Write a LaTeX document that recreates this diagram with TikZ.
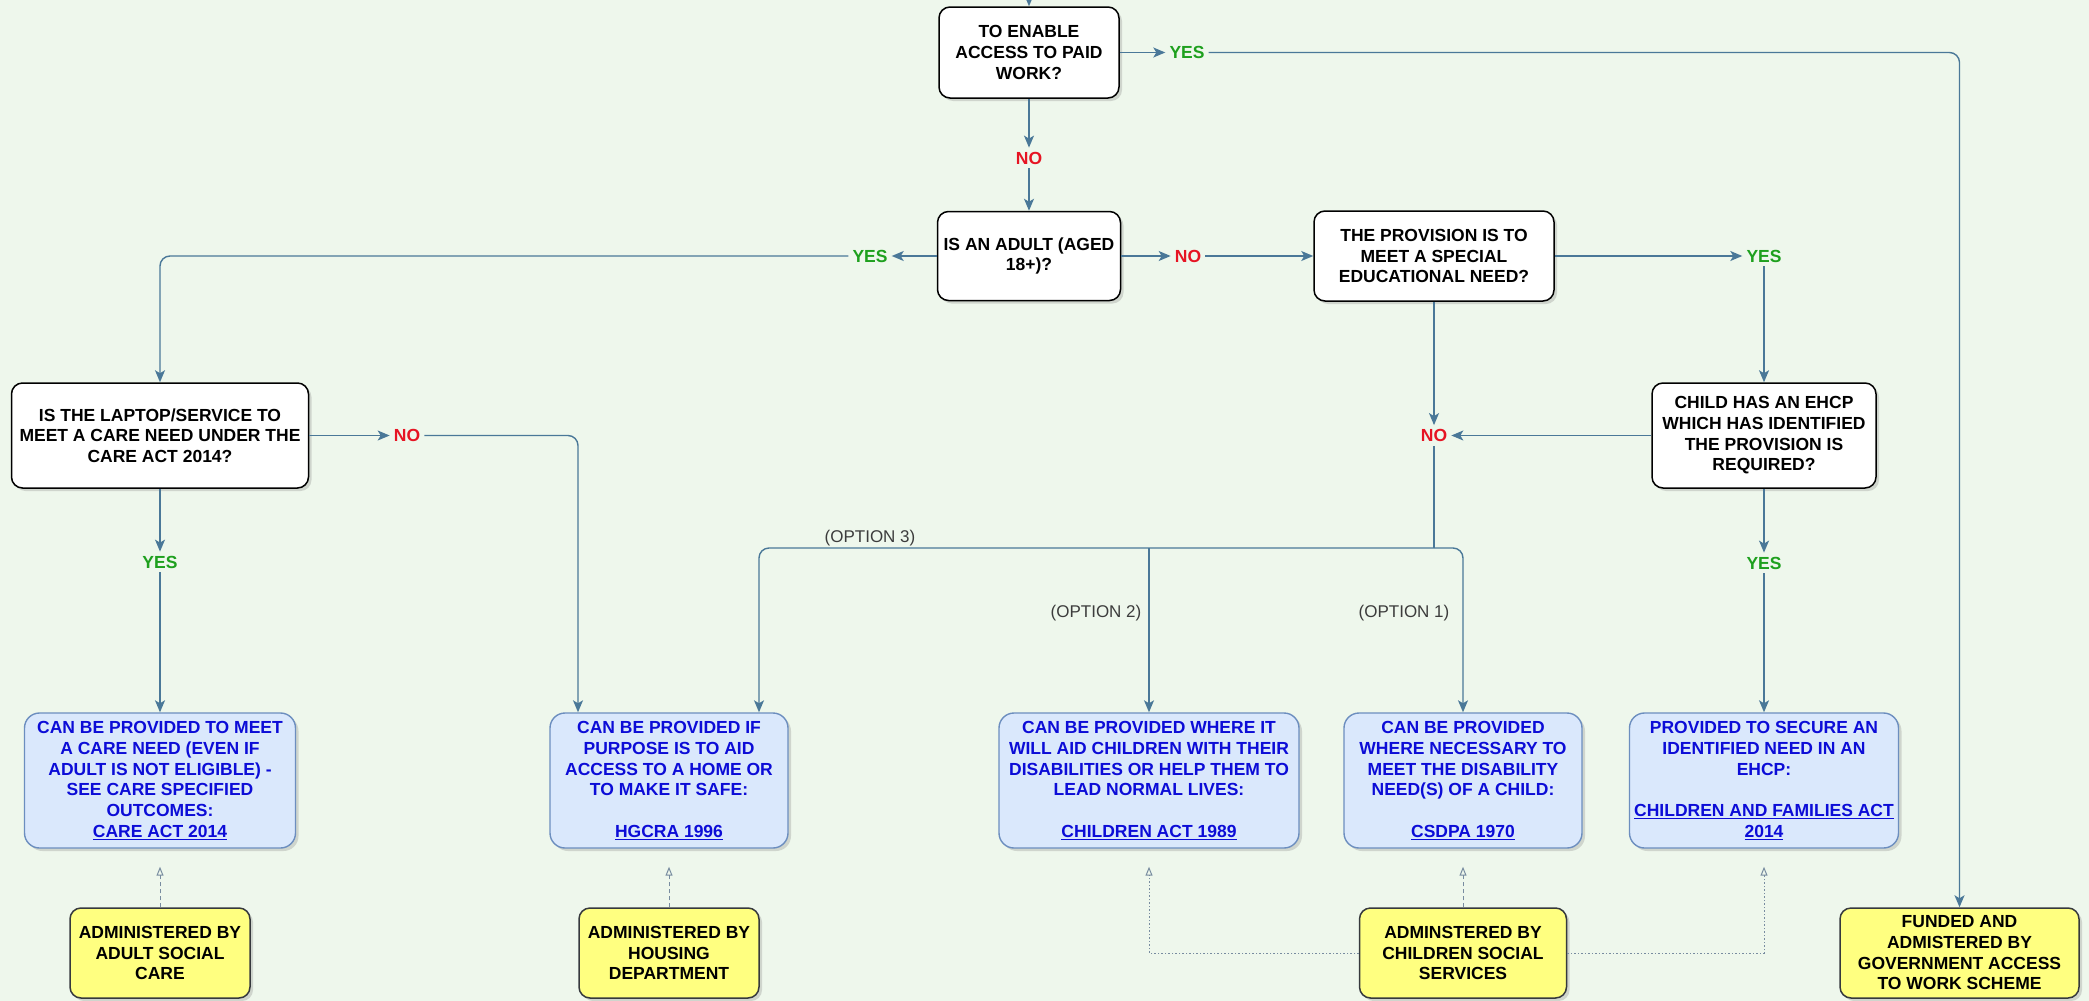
\documentclass[tikz,border=0pt]{standalone}
\usepackage{fontspec}
\setmainfont{Liberation Sans}
\usetikzlibrary{arrows.meta,shadows}
\definecolor{bg}{RGB}{238,247,236}
\definecolor{linecol}{RGB}{74,120,152}
\definecolor{dashcol}{RGB}{120,140,160}
\definecolor{bstroke}{RGB}{108,142,191}
\definecolor{bfill}{RGB}{218,232,252}
\definecolor{btext}{RGB}{12,12,215}
\definecolor{ystroke}{RGB}{54,57,61}
\definecolor{yfill}{RGB}{255,255,128}
\definecolor{yescol}{RGB}{30,160,30}
\definecolor{nocol}{RGB}{230,20,35}
\definecolor{optcol}{RGB}{60,60,60}
\tikzset{
  base/.style={align=center, inner sep=0pt, font=\bfseries\fontsize{17.5}{20.7}\selectfont},
  shad/.style={drop shadow={shadow xshift=3pt, shadow yshift=-3pt, opacity=0.28}},
  qbox/.style={base, shad, draw=black, line width=1.5pt, fill=white, rounded corners=11pt},
  bbox/.style={base, shad, draw=bstroke, line width=1.4pt, fill=bfill, text=btext, rounded corners=15pt, minimum height=135pt},
  ybox/.style={base, shad, draw=ystroke, line width=1.5pt, fill=yfill, rounded corners=11pt, minimum height=90pt},
  yeslab/.style={base, text=yescol, inner sep=4pt},
  nolab/.style={base, text=nocol, inner sep=4pt},
  optlab/.style={font=\fontsize{17}{20}\selectfont, text=optcol, inner sep=2pt},
  flow/.style={draw=linecol, line width=1.4pt, -{Stealth[length=12pt,width=10pt,inset=3pt]}},
  plain/.style={draw=linecol, line width=1.4pt},
  adm/.style={draw=dashcol, line width=1pt, dash pattern=on 4pt off 3pt, -{Triangle[open,length=9pt,width=7pt]}},
  admdot/.style={adm, dash pattern=on 1.5pt off 2pt},
}
\begin{document}
\begin{tikzpicture}[x=1pt,y=-1pt]
\useasboundingbox (0,0) rectangle (2089,1001);
\fill[bg] (0,0) rectangle (2089,1001);
\clip (0,0) rectangle (2089,1001);

% question boxes
\node[qbox, minimum width=180pt, minimum height=91pt] (q1) at (1029,52.5) {TO ENABLE\\ACCESS TO PAID\\WORK?};
\node[qbox, minimum width=183pt, minimum height=89pt] (q2) at (1029,256) {IS AN ADULT (AGED\\18+)?};
\node[qbox, minimum width=240pt, minimum height=90pt] (q3) at (1434,256) {THE PROVISION IS TO\\MEET A SPECIAL\\EDUCATIONAL NEED?};
\node[qbox, minimum width=224pt, minimum height=105pt] (q4) at (1764,435.5) {CHILD HAS AN EHCP\\WHICH HAS IDENTIFIED\\THE PROVISION IS\\REQUIRED?};
\node[qbox, minimum width=297pt, minimum height=105pt] (q5) at (160,435.5) {IS THE LAPTOP/SERVICE TO\\MEET A CARE NEED UNDER THE\\CARE ACT 2014?};

% labels
\node[yeslab] (yes1) at (1187,52.5) {YES};
\node[nolab] (no1) at (1029,158) {NO};
\node[yeslab] (yes2) at (870,256) {YES};
\node[nolab] (no2) at (1188,256) {NO};
\node[yeslab] (yes3) at (1764,256) {YES};
\node[nolab] (no3) at (1434,435.5) {NO};
\node[yeslab] (yes4) at (1764,563) {YES};
\node[nolab] (no5) at (407,435.5) {NO};
\node[yeslab] (yes5) at (160,562) {YES};

\node[optlab] (opt3) at (870,538) {(OPTION 3)};
\node[optlab] (opt2) at (1096,613) {(OPTION 2)};
\node[optlab] (opt1) at (1404,613) {(OPTION 1)};

% outcome boxes
\node[bbox, minimum width=271pt] (b1) at (160,780.5) {CAN BE PROVIDED TO MEET\\A CARE NEED (EVEN IF\\ADULT IS NOT ELIGIBLE) -\\SEE CARE SPECIFIED\\OUTCOMES:\\\underline{CARE ACT 2014}};
\node[bbox, minimum width=238pt] (b2) at (669,780.5) {CAN BE PROVIDED IF\\PURPOSE IS TO AID\\ACCESS TO A HOME OR\\TO MAKE IT SAFE:\\[20.7pt]\underline{HGCRA 1996}};
\node[bbox, minimum width=300pt] (b3) at (1149,780.5) {CAN BE PROVIDED WHERE IT\\WILL AID CHILDREN WITH THEIR\\DISABILITIES OR HELP THEM TO\\LEAD NORMAL LIVES:\\[20.7pt]\underline{CHILDREN ACT 1989}};
\node[bbox, minimum width=238pt] (b4) at (1463,780.5) {CAN BE PROVIDED\\WHERE NECESSARY TO\\MEET THE DISABILITY\\NEED(S) OF A CHILD:\\[20.7pt]\underline{CSDPA 1970}};
\node[bbox, minimum width=269pt] (b5) at (1764,780.5) {PROVIDED TO SECURE AN\\IDENTIFIED NEED IN AN\\EHCP:\\[20.7pt]\underline{CHILDREN AND FAMILIES ACT}\\\underline{2014}};

% administering bodies
\node[ybox, minimum width=180pt] (y1) at (160,953) {ADMINISTERED BY\\ADULT SOCIAL\\CARE};
\node[ybox, minimum width=180pt] (y2) at (669,953) {ADMINISTERED BY\\HOUSING\\DEPARTMENT};
\node[ybox, minimum width=207pt] (y3) at (1463,953) {ADMINSTERED BY\\CHILDREN SOCIAL\\SERVICES};
\node[ybox, minimum width=239pt] (y4) at (1959.5,953) {FUNDED AND\\ADMISTERED BY\\GOVERNMENT ACCESS\\TO WORK SCHEME};

% connectors
\coordinate (top) at (1029,-30);
\draw[flow] (top) -- (q1.north);
\draw[flow] (q1.east) -- (yes1.west);
\draw[flow, rounded corners=10pt] (yes1.east) -| (y4.north);
\draw[flow] (q1.south) -- (no1.north);
\draw[flow] (no1.south) -- (q2.north);
\draw[flow] (q2.west) -- (yes2.east);
\draw[flow, rounded corners=10pt] (yes2.west) -| (q5.north);
\draw[flow] (q2.east) -- (no2.west);
\draw[flow] (no2.east) -- (q3.west);
\draw[flow] (q3.east) -- (yes3.west);
\draw[flow] (yes3.south) -- (q4.north);
\draw[flow] (q3.south) -- (no3.north);
\draw[flow] (q4.west) -- (no3.east);
\coordinate (j) at (1434,548);
\draw[plain] (no3.south) -- (j);
\draw[flow, rounded corners=10pt] (j) -| ([xshift=90pt]b2.north);
\draw[flow] (b3.north |- j) -- (b3.north);
\draw[flow, rounded corners=10pt] (j) -| (b4.north);
\draw[flow] (q4.south) -- (yes4.north);
\draw[flow] (yes4.south) -- (b5.north);
\draw[flow] (q5.east) -- (no5.west);
\draw[flow, rounded corners=10pt] (no5.east) -| ([xshift=-91pt]b2.north);
\draw[flow] (q5.south) -- (yes5.north);
\draw[flow] (yes5.south) -- (b1.north);

% administration links
\draw[adm] (y1.north) -- ([yshift=-18pt]b1.south);
\draw[adm] (y2.north) -- ([yshift=-18pt]b2.south);
\draw[adm] (y3.north) -- ([yshift=-18pt]b4.south);
\draw[admdot] (y3.west) -| ([yshift=-18pt]b3.south);
\draw[admdot] (y3.east) -| ([yshift=-18pt]b5.south);
\end{tikzpicture}
\end{document}
